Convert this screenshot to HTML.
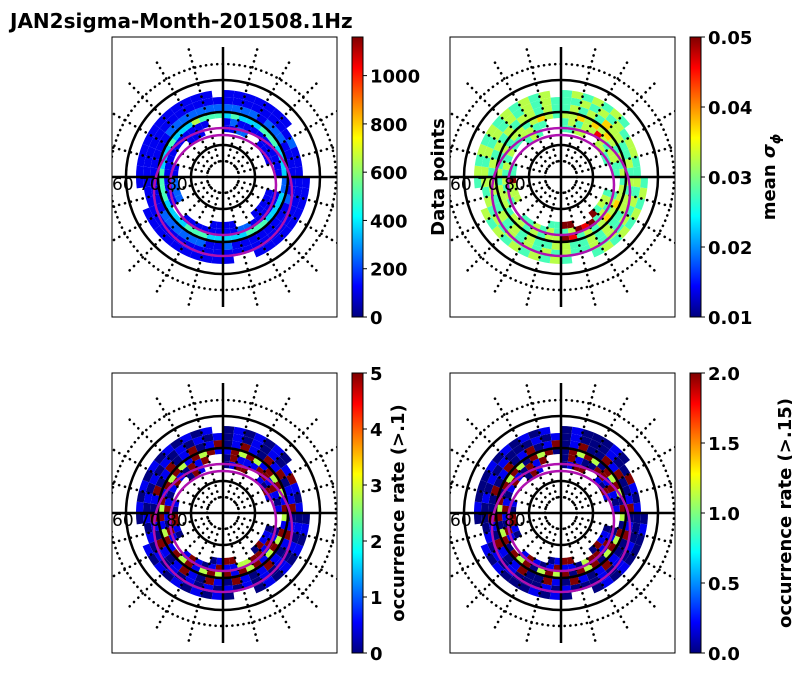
<!DOCTYPE html>
<html><head><meta charset="utf-8"><style>
body{margin:0;background:#fff;width:792px;height:674px;overflow:hidden;font-family:"DejaVu Sans",sans-serif}
text{font-family:"DejaVu Sans","Liberation Sans",sans-serif}
</style></head><body>
<svg id="s" width="792" height="674" xmlns="http://www.w3.org/2000/svg">
<defs>
<linearGradient id="jet" x1="0" y1="1" x2="0" y2="0">
<stop offset="0" stop-color="#00007f"/><stop offset="0.11" stop-color="#0000ff"/>
<stop offset="0.36" stop-color="#00ffff"/><stop offset="0.5" stop-color="#7fff7f"/>
<stop offset="0.64" stop-color="#ffff00"/><stop offset="0.89" stop-color="#ff0000"/>
<stop offset="1" stop-color="#7f0000"/></linearGradient>
</defs>
<text x="10" y="28" font-size="20" font-weight="bold">JAN2sigma-Month-201508.1Hz</text>
</svg>
<script>
const panel1 = ["1122..1111....11111...1111......222211....111...","121111111111..1111112211111111..11111111111111..","343334443333223333444333334443333444433343335444","222212221111112111111112112222221111111112222222","111111112111111111111111111111111111111111111111","1111111.....111111111..1111111111..111111111111."];
const panel2 = ["4455..5544....45549...9944......555944....454...","454558545544..4545498954454544..45454545445544..","556565654545455656545489554545545554544545545654","454546554454545544545445544545454455454545455454","445454545544545454545445454545454545545454545454","4545454.....454545454..4545454545..454545454545."];
const panel3 = ["0199..1091....01190...9910......019901....091...","091119919101..0191995511910191..19019101910919..","195951959519519595195919595195919519591959519591","019109190119019101910190190191019019019019019019","010101019101010101010101010101010101010101010101","0101010.....010101010..0101010101..010101010101."];
const panel4 = ["0199..1091....01190...9910......019901....091...","091009919101..0191995011910191..19019101910919..","095950959509509595095909595095909509590959509590","019009190019019001910190190091019019009019019019","010001009101000101010001010001010100010101000101","0100010.....010001010..0101000101..010001010101."];
const cbTicks1=["0","200","400","600","800","1000"], cbVals1=[0,200,400,600,800,1000], cbMax1=1160;
const cbTicks2=["0.01","0.02","0.03","0.04","0.05"], cbVals2=[0.01,0.02,0.03,0.04,0.05];
const cbTicks3=["0","1","2","3","4","5"], cbVals3=[0,1,2,3,4,5];
const cbTicks4=["0.0","0.5","1.0","1.5","2.0"], cbVals4=[0,0.5,1,1.5,2];

const NS="http://www.w3.org/2000/svg", S=document.getElementById('s');
function mk(t,a,p){const e=document.createElementNS(NS,t);for(const k in a)e.setAttribute(k,a[k]);(p||S).appendChild(e);return e;}
function jet(v){v=Math.max(0,Math.min(1,v));
 const r=Math.max(0,Math.min(1,1.5-Math.abs(4*v-3))),g=Math.max(0,Math.min(1,1.5-Math.abs(4*v-2))),b=Math.max(0,Math.min(1,1.5-Math.abs(4*v-1)));
 return `rgb(${Math.round(r*255)},${Math.round(g*255)},${Math.round(b*255)})`;}
function arc(cx,cy,r0,r1,a0,a1){const p=(r,a)=>[cx+r*Math.sin(a),cy-r*Math.cos(a)];
 const A=p(r1,a0),B=p(r1,a1),C=p(r0,a1),D=p(r0,a0);
 return `M${A}A${r1},${r1} 0 0 1 ${B}L${C}A${r0},${r0} 0 0 0 ${D}Z`;}

function drawPanel(px,py,data,name,cb){
 const g=mk('g',{});
 const W=225,H=280,cx=px+111,cy=py+140;
 const cp=mk('clipPath',{id:'c'+name},S); mk('rect',{x:px,y:py,width:W,height:H},cp);
 const inner=mk('g',{'clip-path':`url(#c${name})`},g);
 const rBins=[45,52,59,66,73,80,87];
 data.forEach((row,ri)=>{for(let i=0;i<48;i++){const ch=row[i]||'.';if(ch==='.')continue;
   const a0=i*Math.PI*2/48,a1=(i+1)*Math.PI*2/48;
   const c=mk('path',{d:arc(cx,cy,rBins[ri],rBins[ri+1],a0,a1),fill:jet(+ch/9)},inner);
   
   }});
 for(const r of [16,113]) mk('circle',{cx,cy,r,fill:'none',stroke:'#000','stroke-width':2.6,'stroke-dasharray':'0.1 5.5','stroke-linecap':'round'},inner);
 for(let k=0;k<24;k++){if(k%6===0)continue;const a=k*Math.PI/12;
  mk('line',{x1:cx+16*Math.sin(a),y1:cy-16*Math.cos(a),x2:cx+135*Math.sin(a),y2:cy-135*Math.cos(a),stroke:'#000','stroke-width':2.6,'stroke-dasharray':'0.1 6','stroke-linecap':'round'},inner);}
 for(const r of [32,65,97]) mk('circle',{cx,cy,r,fill:'none',stroke:'#000','stroke-width':2.5},inner);
 mk('line',{x1:cx,y1:cy-130,x2:cx,y2:cy+130,stroke:'#000','stroke-width':2.5},inner);
 mk('line',{x1:px,y1:cy,x2:px+W,y2:cy,stroke:'#000','stroke-width':2.5},inner);
 mk('ellipse',{cx,cy:cy+15,rx:69,ry:64,fill:'none',stroke:'#b010b0','stroke-width':2.5},inner);
 mk('ellipse',{cx,cy:cy+8,rx:53,ry:50,fill:'none',stroke:'#b010b0','stroke-width':2.5},inner);
 const t=mk('text',{x:px,y:cy+13,'font-size':17},inner); t.textContent='60 70 80';
 mk('rect',{x:px,y:py,width:W,height:H,fill:'none',stroke:'#000','stroke-width':1},g);
 const bx=px+240;
 const bar=mk('rect',{x:bx,y:py,width:11,height:H,fill:'url(#jet)',stroke:'#000','stroke-width':1},g);
 
 
 cb.ticks.forEach((lab,i)=>{const y=py+H-(cb.vals[i]-cb.min)/(cb.max-cb.min)*H;
  mk('line',{x1:bx+11,y1:y,x2:bx+15,y2:y,stroke:'#000','stroke-width':1},g);
  const tt=mk('text',{x:bx+18,y:y+7,'font-size':18,'font-weight':'bold'},g);tt.textContent=lab;
  
  });
 const lt=mk('text',{x:0,y:0,'font-size':18,'font-weight':'bold','text-anchor':'middle',transform:`translate(${cb.lx},${py+H/2}) rotate(-90)`},g);
 lt.innerHTML=cb.label;
 
 
}
drawPanel(112,37,panel1,'panel-data-points',{ticks:cbTicks1,vals:cbVals1,min:0,max:cbMax1,label:'Data points',lx:444});
drawPanel(450,37,panel2,'panel-mean-sigma',{ticks:cbTicks2,vals:cbVals2,min:0.01,max:0.05,label:'mean <tspan font-style="italic">σ</tspan><tspan font-size="13" dy="5" font-style="italic">ϕ</tspan>',lx:775});
drawPanel(112,373,panel3,'panel-occurrence-1',{ticks:cbTicks3,vals:cbVals3,min:0,max:5,label:'occurrence rate (&gt;.1)',lx:404});
drawPanel(450,373,panel4,'panel-occurrence-15',{ticks:cbTicks4,vals:cbVals4,min:0,max:2,label:'occurrence rate (&gt;.15)',lx:791});
</script>
</body></html>
